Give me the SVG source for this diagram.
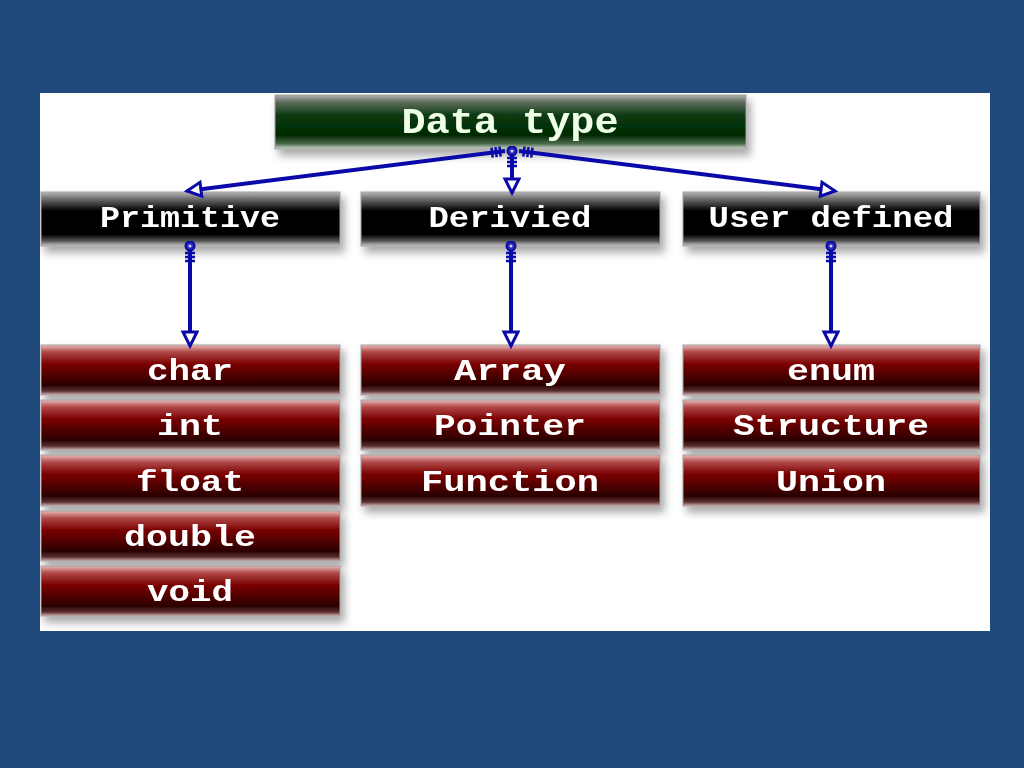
<svg xmlns="http://www.w3.org/2000/svg" width="1024" height="768" viewBox="0 0 1024 768">
<defs>
<style>
.lbl{font-family:"Liberation Mono","Courier New",monospace;font-weight:bold;fill:#ffffff;text-anchor:middle;}
.conn{stroke:#0a0aa8;stroke-width:4;fill:none;}
.box{stroke:#a0a0a0;stroke-width:1;}
</style>
<linearGradient id="gBlack" x1="0" y1="0" x2="0" y2="1">
<stop offset="0" stop-color="#b8b8b8"/>
<stop offset="0.12" stop-color="#707070"/>
<stop offset="0.35" stop-color="#000000"/>
<stop offset="0.78" stop-color="#000000"/>
<stop offset="0.9" stop-color="#505050"/>
<stop offset="1" stop-color="#c8c8c8"/>
</linearGradient>
<linearGradient id="gGreen" x1="0" y1="0" x2="0" y2="1">
<stop offset="0" stop-color="#b0b0b0"/>
<stop offset="0.14" stop-color="#5a6a5a"/>
<stop offset="0.38" stop-color="#0b3a12"/>
<stop offset="0.75" stop-color="#002a00"/>
<stop offset="0.9" stop-color="#4a6a4a"/>
<stop offset="1" stop-color="#d0d8d0"/>
</linearGradient>
<linearGradient id="gRed" x1="0" y1="0" x2="0" y2="1">
<stop offset="0" stop-color="#eab8b8"/>
<stop offset="0.14" stop-color="#b04848"/>
<stop offset="0.38" stop-color="#7a0000"/>
<stop offset="0.8" stop-color="#2a0000"/>
<stop offset="0.92" stop-color="#5a3030"/>
<stop offset="1" stop-color="#d8b0b0"/>
</linearGradient>
<filter id="sh" x="-10%" y="-20%" width="125%" height="160%">
<feDropShadow dx="4" dy="6" stdDeviation="4" flood-color="#000" flood-opacity="0.35"/>
</filter>
<marker id="head" markerUnits="userSpaceOnUse" markerWidth="22" markerHeight="20" refX="16" refY="9" orient="auto">
<path d="M2,2 L16,9 L2,16 Z" fill="#ffffff" stroke="#0a0aa8" stroke-width="3" stroke-linejoin="miter"/>
</marker>
<marker id="tail" markerUnits="userSpaceOnUse" markerWidth="26" markerHeight="20" refX="5" refY="10" orient="auto">
<circle cx="5" cy="10" r="4.5" fill="#2a2ab0" stroke="#0a0aa8" stroke-width="2"/>
<circle cx="5" cy="10" r="1.6" fill="#c8c8ff"/>
<path d="M12,5 L12,15 M16,5 L16,15 M20,5 L20,15" stroke="#0a0aa8" stroke-width="2.5"/>
</marker>
<marker id="ticks" markerUnits="userSpaceOnUse" markerWidth="26" markerHeight="20" refX="0" refY="10" orient="auto">
<path d="M5,5 L5,15 M9,5 L9,15 M13,5 L13,15" stroke="#0a0aa8" stroke-width="2.5"/>
</marker>
</defs>
<rect x="0" y="0" width="1024" height="768" fill="#214a7c"/>
<rect x="40" y="93" width="950" height="538" fill="#ffffff"/>

<g id="node-datatype" filter="url(#sh)">
<rect class="box" x="275" y="95" width="471" height="54" fill="url(#gGreen)"/>
<text class="lbl" x="510" y="133" font-size="36" textLength="217" lengthAdjust="spacingAndGlyphs" style="fill:#f0ffe8">Data type</text>
</g>

<g id="node-primitive" filter="url(#sh)">
<rect class="box" x="41" y="192" width="299" height="54" fill="url(#gBlack)"/>
<text class="lbl" x="190" y="227" font-size="30" textLength="180" lengthAdjust="spacingAndGlyphs">Primitive</text>
</g>
<g id="node-derived" filter="url(#sh)">
<rect class="box" x="361" y="192" width="299" height="54" fill="url(#gBlack)"/>
<text class="lbl" x="510" y="227" font-size="30" textLength="163" lengthAdjust="spacingAndGlyphs">Derivied</text>
</g>
<g id="node-userdefined" filter="url(#sh)">
<rect class="box" x="683" y="192" width="297" height="54" fill="url(#gBlack)"/>
<text class="lbl" x="831" y="227" font-size="30" textLength="245" lengthAdjust="spacingAndGlyphs">User defined</text>
</g>

<g id="node-char" filter="url(#sh)">
<rect class="box" x="41" y="345" width="299" height="50" fill="url(#gRed)"/>
<text class="lbl" x="190" y="380" font-size="30" textLength="86" lengthAdjust="spacingAndGlyphs">char</text>
</g>
<g id="node-int" filter="url(#sh)">
<rect class="box" x="41" y="400" width="299" height="50" fill="url(#gRed)"/>
<text class="lbl" x="190" y="435" font-size="30" textLength="66" lengthAdjust="spacingAndGlyphs">int</text>
</g>
<g id="node-float" filter="url(#sh)">
<rect class="box" x="41" y="455" width="299" height="51" fill="url(#gRed)"/>
<text class="lbl" x="190" y="491" font-size="30" textLength="108" lengthAdjust="spacingAndGlyphs">float</text>
</g>
<g id="node-double" filter="url(#sh)">
<rect class="box" x="41" y="511" width="299" height="50" fill="url(#gRed)"/>
<text class="lbl" x="190" y="546" font-size="30" textLength="132" lengthAdjust="spacingAndGlyphs">double</text>
</g>
<g id="node-void" filter="url(#sh)">
<rect class="box" x="41" y="566" width="299" height="50" fill="url(#gRed)"/>
<text class="lbl" x="190" y="601" font-size="30" textLength="86" lengthAdjust="spacingAndGlyphs">void</text>
</g>

<g id="node-array" filter="url(#sh)">
<rect class="box" x="361" y="345" width="299" height="50" fill="url(#gRed)"/>
<text class="lbl" x="510" y="380" font-size="30" textLength="112" lengthAdjust="spacingAndGlyphs">Array</text>
</g>
<g id="node-pointer" filter="url(#sh)">
<rect class="box" x="361" y="400" width="299" height="50" fill="url(#gRed)"/>
<text class="lbl" x="510" y="435" font-size="30" textLength="152" lengthAdjust="spacingAndGlyphs">Pointer</text>
</g>
<g id="node-function" filter="url(#sh)">
<rect class="box" x="361" y="455" width="299" height="51" fill="url(#gRed)"/>
<text class="lbl" x="510" y="491" font-size="30" textLength="178" lengthAdjust="spacingAndGlyphs">Function</text>
</g>

<g id="node-enum" filter="url(#sh)">
<rect class="box" x="683" y="345" width="297" height="50" fill="url(#gRed)"/>
<text class="lbl" x="831" y="380" font-size="30" textLength="88" lengthAdjust="spacingAndGlyphs">enum</text>
</g>
<g id="node-structure" filter="url(#sh)">
<rect class="box" x="683" y="400" width="297" height="50" fill="url(#gRed)"/>
<text class="lbl" x="831" y="435" font-size="30" textLength="196" lengthAdjust="spacingAndGlyphs">Structure</text>
</g>
<g id="node-union" filter="url(#sh)">
<rect class="box" x="683" y="455" width="297" height="51" fill="url(#gRed)"/>
<text class="lbl" x="831" y="491" font-size="30" textLength="110" lengthAdjust="spacingAndGlyphs">Union</text>
</g>

<g id="connectors">
<line class="conn" x1="505" y1="151" x2="187" y2="191" marker-start="url(#ticks)" marker-end="url(#head)"/>
<line class="conn" x1="512" y1="151" x2="512" y2="193" marker-start="url(#tail)" marker-end="url(#head)"/>
<line class="conn" x1="519" y1="151" x2="835" y2="191" marker-start="url(#ticks)" marker-end="url(#head)"/>
<line class="conn" x1="190" y1="246" x2="190" y2="346" marker-start="url(#tail)" marker-end="url(#head)"/>
<line class="conn" x1="511" y1="246" x2="511" y2="346" marker-start="url(#tail)" marker-end="url(#head)"/>
<line class="conn" x1="831" y1="246" x2="831" y2="346" marker-start="url(#tail)" marker-end="url(#head)"/>
</g>
</svg>
